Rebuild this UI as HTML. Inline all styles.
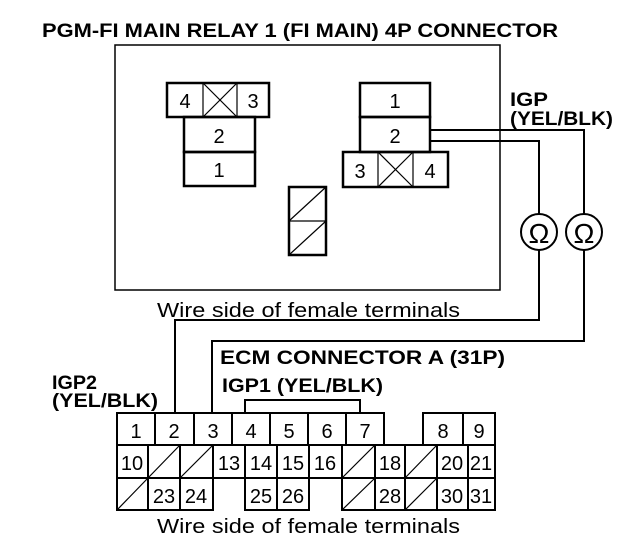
<!DOCTYPE html>
<html><head><style>
body{margin:0;background:#fff}
svg{display:block}
</style></head><body>
<svg width="640" height="552" viewBox="0 0 640 552" xmlns="http://www.w3.org/2000/svg" font-family="Liberation Sans, sans-serif">
<rect width="640" height="552" fill="#fff"/>
<text x="42" y="37" font-size="19" font-weight="bold" textLength="516" lengthAdjust="spacingAndGlyphs">PGM-FI MAIN RELAY 1 (FI MAIN) 4P CONNECTOR</text>
<rect x="115" y="45" width="385" height="245" fill="none" stroke="#000" stroke-width="1.5"/>
<g fill="none" stroke="#000" stroke-width="2.5">
<rect x="167" y="83" width="102" height="34"/>
<rect x="184" y="117" width="71" height="35"/>
<rect x="184" y="152" width="71" height="34"/>
<rect x="360" y="83" width="70" height="34"/>
<rect x="360" y="117" width="70" height="35"/>
<rect x="343" y="152" width="105" height="35"/>
<rect x="289" y="187" width="37" height="68"/>
</g>
<g stroke="#000" stroke-width="1.2" fill="none">
<line x1="203" y1="83" x2="203" y2="117"/><line x1="237" y1="83" x2="237" y2="117"/>
<line x1="203" y1="83" x2="237" y2="117"/><line x1="237" y1="83" x2="203" y2="117"/>
<line x1="378" y1="152" x2="378" y2="187"/><line x1="413" y1="152" x2="413" y2="187"/>
<line x1="378" y1="152" x2="413" y2="187"/><line x1="413" y1="152" x2="378" y2="187"/>
<line x1="289" y1="221" x2="326" y2="221"/>
<line x1="289" y1="221" x2="326" y2="187"/><line x1="289" y1="255" x2="326" y2="221"/>
</g>
<g font-size="20" text-anchor="middle">
<text x="185" y="108">4</text><text x="253" y="108">3</text>
<text x="219" y="143">2</text><text x="219" y="177">1</text>
<text x="395" y="108">1</text><text x="395" y="143">2</text>
<text x="360" y="178">3</text><text x="430" y="178">4</text>
</g>
<g stroke="#000" stroke-width="2" fill="none">
<polyline points="430,130 584,130 584,214"/>
<polyline points="430,141 539,141 539,214"/>
<circle cx="539" cy="232" r="18"/><circle cx="584" cy="232" r="18"/>
<polyline points="539,250 539,320 175,320 175,413"/>
<polyline points="584,250 584,341 212,341 212,413"/>
<polyline points="245,413 245,400 360,400 360,413"/>
</g>
<g font-size="28" text-anchor="middle"><text x="539" y="243">Ω</text><text x="584" y="243">Ω</text></g>
<text x="510" y="106" font-size="19" font-weight="bold" textLength="38" lengthAdjust="spacingAndGlyphs">IGP</text>
<text x="510" y="125" font-size="19" font-weight="bold" textLength="103" lengthAdjust="spacingAndGlyphs">(YEL/BLK)</text>
<text x="157" y="317" font-size="20" textLength="303" lengthAdjust="spacingAndGlyphs">Wire side of female terminals</text>
<text x="220" y="364" font-size="19" font-weight="bold" textLength="285" lengthAdjust="spacingAndGlyphs">ECM CONNECTOR A (31P)</text>
<text x="222" y="392" font-size="19" font-weight="bold" textLength="161" lengthAdjust="spacingAndGlyphs">IGP1 (YEL/BLK)</text>
<text x="52" y="389" font-size="19" font-weight="bold" textLength="45" lengthAdjust="spacingAndGlyphs">IGP2</text>
<text x="52" y="407" font-size="19" font-weight="bold" textLength="106" lengthAdjust="spacingAndGlyphs">(YEL/BLK)</text>
<g fill="none" stroke="#000" stroke-width="2">
<rect x="117" y="413" width="38" height="32"/><rect x="155" y="413" width="39" height="32"/><rect x="194" y="413" width="38" height="32"/><rect x="232" y="413" width="38" height="32"/><rect x="270" y="413" width="38" height="32"/><rect x="308" y="413" width="38" height="32"/><rect x="346" y="413" width="38" height="32"/>
<rect x="423" y="413" width="40" height="32"/><rect x="463" y="413" width="32" height="32"/>
<rect x="117" y="445" width="31" height="33"/><rect x="148" y="445" width="32" height="33"/><rect x="180" y="445" width="33" height="33"/><rect x="213" y="445" width="32" height="33"/><rect x="245" y="445" width="32" height="33"/><rect x="277" y="445" width="32" height="33"/><rect x="309" y="445" width="33" height="33"/><rect x="342" y="445" width="33" height="33"/><rect x="375" y="445" width="30" height="33"/><rect x="405" y="445" width="32" height="33"/><rect x="437" y="445" width="31" height="33"/><rect x="468" y="445" width="27" height="33"/>
<rect x="117" y="478" width="31" height="32"/><rect x="148" y="478" width="32" height="32"/><rect x="180" y="478" width="33" height="32"/><rect x="245" y="478" width="32" height="32"/><rect x="277" y="478" width="32" height="32"/><rect x="342" y="478" width="33" height="32"/><rect x="375" y="478" width="30" height="32"/><rect x="405" y="478" width="32" height="32"/><rect x="437" y="478" width="31" height="32"/><rect x="468" y="478" width="27" height="32"/>
</g>
<g stroke="#000" stroke-width="1.2">
<line x1="148" y1="478" x2="180" y2="445"/><line x1="180" y1="478" x2="213" y2="445"/><line x1="342" y1="478" x2="375" y2="445"/><line x1="405" y1="478" x2="437" y2="445"/>
<line x1="117" y1="510" x2="148" y2="478"/><line x1="342" y1="510" x2="375" y2="478"/><line x1="405" y1="510" x2="437" y2="478"/>
</g>
<g font-size="20" text-anchor="middle">
<text x="136" y="438">1</text><text x="174" y="438">2</text><text x="213" y="438">3</text><text x="251" y="438">4</text><text x="289" y="438">5</text><text x="327" y="438">6</text><text x="365" y="438">7</text><text x="443" y="438">8</text><text x="479" y="438">9</text>
<text x="132" y="470">10</text><text x="229" y="470">13</text><text x="261" y="470">14</text><text x="293" y="470">15</text><text x="325" y="470">16</text><text x="390" y="470">18</text><text x="452" y="470">20</text><text x="481" y="470">21</text>
<text x="164" y="503">23</text><text x="196" y="503">24</text><text x="261" y="503">25</text><text x="293" y="503">26</text><text x="390" y="503">28</text><text x="452" y="503">30</text><text x="481" y="503">31</text>
</g>
<text x="157" y="533" font-size="20" textLength="303" lengthAdjust="spacingAndGlyphs">Wire side of female terminals</text>
</svg>
</body></html>
